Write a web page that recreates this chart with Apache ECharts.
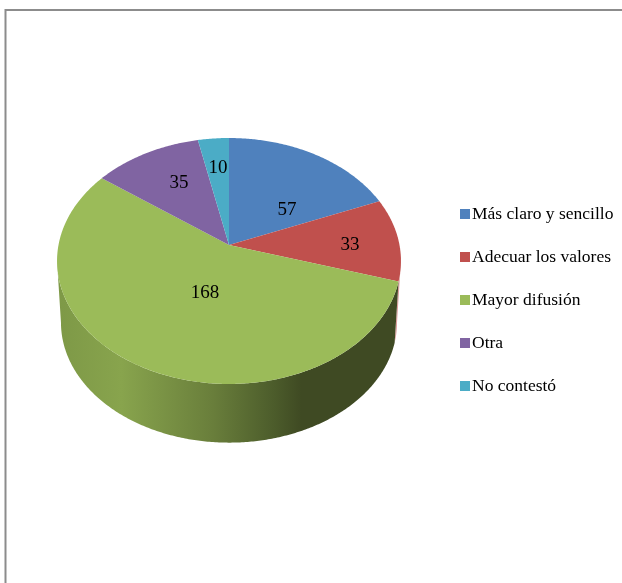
<!DOCTYPE html>
<html lang="es">
<head>
    <meta charset="UTF-8">
    <title>Pie</title>
    <script src="https://cdn.jsdelivr.net/npm/echarts@6/dist/echarts.min.js"></script>
    <style>
        html, body { margin: 0; padding: 0; background: #fff; overflow: hidden; }
        #main { width: 622px; height: 583px; }
    </style>
</head>
<body>
<div id="main"></div>
<script type="text/javascript">
    var categories = ['Más claro y sencillo', 'Adecuar los valores', 'Mayor difusión', 'Otra', 'No contestó'];
    var values = [57, 33, 168, 35, 10];
    var colors = ['#4f81bd', '#c0504d', '#9bbb59', '#8064a2', '#4bacc6'];

    // pixel spots of the value labels, the original places them by hand
    var labelSpots = [[287, 210], [350, 245], [205, 293], [179, 183], [218, 168]];

    var total = values.reduce(function (a, b) { return a + b; }, 0);
    var persp = 0.13;
    var cx = 229;
    var topFace = {y: 245, rx: 170.5, ry: 120.9};
    var baseFace = {y: 307, rx: 166.6, ry: 118};
    var wallFrom = Math.acos(-persp);
    var wallTo = 2 * Math.PI - wallFrom;

    // circle angle (0 = back, clockwise) to screen, squeezed for perspective
    function project(face, a) {
        var u = Math.sin(a), v = Math.cos(a), w = 1 + persp * v;
        return [cx + face.rx * u / w, face.y - face.ry * v / w];
    }

    function arc(face, a0, a1) {
        var pts = [];
        var n = Math.max(2, Math.ceil(Math.abs(a1 - a0) / 0.01));
        for (var i = 0; i <= n; i++) {
            pts.push(project(face, a0 + (a1 - a0) * i / n));
        }
        return pts;
    }

    function wallFill(i) {
        if (i === 2) {
            return new echarts.graphic.LinearGradient(60, 0, 400, 0, [
                {offset: 0, color: '#7e9947'},
                {offset: 0.18, color: '#88a44d'},
                {offset: 0.45, color: '#697e3b'},
                {offset: 0.63, color: '#4c5c2b'},
                {offset: 0.71, color: '#3f4a23'},
                {offset: 1, color: '#3f4a23'}
            ], true);
        }
        return echarts.color.lift(colors[i], 0.45);
    }

    function renderSlice(i) {
        var start = values.slice(0, i).reduce(function (a, b) { return a + b; }, 0);
        return function (params, api) {
            var a0 = start / total * 2 * Math.PI;
            var a1 = (start + api.value(0)) / total * 2 * Math.PI;
            var children = [];

            var w0 = Math.max(a0, wallFrom), w1 = Math.min(a1, wallTo);
            if (w1 > w0) {
                children.push({
                    type: 'polygon',
                    shape: {points: arc(topFace, w0, w1).concat(arc(baseFace, w1, w0))},
                    style: {fill: wallFill(i)}
                });
            }
            children.push({
                type: 'polygon',
                shape: {points: [[cx, topFace.y]].concat(arc(topFace, a0, a1))},
                style: {fill: colors[i]}
            });
            children.push({
                type: 'text',
                x: labelSpots[i][0],
                y: labelSpots[i][1],
                style: {
                    text: String(api.value(0)),
                    fill: '#000',
                    font: '19px "Liberation Serif"',
                    align: 'center',
                    verticalAlign: 'middle'
                }
            });
            return {type: 'group', children: children};
        };
    }

    var series = categories.map(function (name, i) {
        return {
            name: name,
            type: 'custom',
            coordinateSystem: 'none',
            animation: false,
            silent: true,
            itemStyle: {color: colors[i]},
            data: [[values[i]]],
            renderItem: renderSlice(i)
        };
    });

    var myChart = echarts.init(document.getElementById('main'), null, {renderer: 'canvas'});
    var option = {
        animation: false,
        backgroundColor: '#fff',
        color: colors,
        graphic: [{
            type: 'rect',
            z: -1,
            shape: {x: 5.5, y: 10, width: 700, height: 700},
            style: {fill: '#fff', stroke: '#8c8c8c', lineWidth: 2}
        }],
        legend: {
            orient: 'vertical',
            left: 455,
            top: 200,
            icon: 'rect',
            itemWidth: 10,
            itemHeight: 10,
            itemGap: 25,
            selectedMode: false,
            textStyle: {
                fontFamily: 'Liberation Serif',
                fontSize: 17.5,
                color: '#000',
                padding: [0, 0, 0, -3]
            },
            data: categories
        },
        series: series
    };
    myChart.setOption(option);
</script>
</body>
</html>
